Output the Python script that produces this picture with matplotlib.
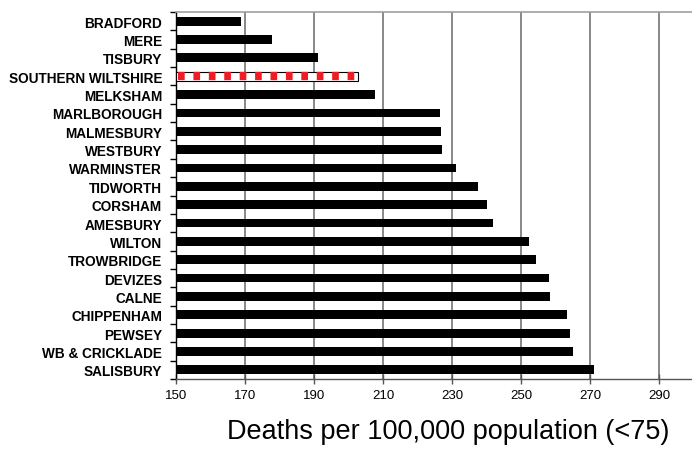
import matplotlib
matplotlib.use("Agg")
import matplotlib.pyplot as plt
import numpy as np

areas = ["BRADFORD", "MERE", "TISBURY", "SOUTHERN WILTSHIRE", "MELKSHAM",
         "MARLBOROUGH", "MALMESBURY", "WESTBURY", "WARMINSTER", "TIDWORTH",
         "CORSHAM", "AMESBURY", "WILTON", "TROWBRIDGE", "DEVIZES", "CALNE",
         "CHIPPENHAM", "PEWSEY", "WB & CRICKLADE", "SALISBURY"]
rates = [168.8, 177.8, 191.3, 202.7, 207.6,
         226.4, 226.8, 227.2, 231.2, 237.6,
         240.3, 241.9, 252.2, 254.3, 258.1, 258.3,
         263.5, 264.3, 265.0, 271.1]
highlight = "SOUTHERN WILTSHIRE"
xticks = [150, 170, 190, 210, 230, 250, 270, 290]
xlabel = "Deaths per 100,000 population (<75)"

plt.rcParams['font.family'] = ['Liberation Sans', 'DejaVu Sans']

fig = plt.figure(figsize=(6.92, 4.52), dpi=100)
ax = fig.add_axes([176/692, 1 - 380/452, 1 - 176/692, (380 - 13)/452])

y = np.arange(len(areas))
base = 150
bar_h = 0.48
for yi, name, val in zip(y, areas, rates):
    if name == highlight:
        ax.barh(yi, val - base, left=base, height=bar_h, color="white",
                edgecolor="black", linewidth=0.8, zorder=3)
        ax.plot([base + 0.6, val - 0.4], [yi, yi], color="#ee1c25", linewidth=6.0,
                dashes=(0.8, 1.05), solid_capstyle="butt",
                dash_capstyle="butt", zorder=4)
    else:
        ax.barh(yi, val - base, left=base, height=bar_h, color="black",
                zorder=3)

ax.set_xlim(150, 299.6)
ax.set_ylim(len(areas) - 0.5, -0.5)

ax.set_xticks(xticks)
ax.set_xticklabels([str(t) for t in xticks], fontsize=9.5)
ax.tick_params(axis='x', direction='inout', length=7, width=1.0,
               color='#555555', pad=4)

ax.set_yticks(y)
ax.set_yticklabels(areas, fontsize=9.8, fontweight='bold')
ax.tick_params(axis='y', which='major', length=0, pad=10)
ax.set_yticks(np.arange(len(areas) + 1) - 0.5, minor=True)
ax.tick_params(axis='y', which='minor', length=4, width=1.0, color='black')

for t in xticks[1:]:
    ax.axvline(t, color='#7f7f7f', linewidth=1.3, zorder=1)

ax.spines['left'].set_color('black')
ax.spines['left'].set_linewidth(1.0)
ax.spines['bottom'].set_color('#555555')
ax.spines['bottom'].set_linewidth(1.0)
ax.spines['top'].set_color('#a0a0a0')
ax.spines['top'].set_linewidth(1.2)
ax.spines['right'].set_visible(False)

fig.text(448/692, 1 - 432/452, xlabel, ha='center', va='center', fontsize=19.5)

fig.savefig("out.png", dpi=100)
